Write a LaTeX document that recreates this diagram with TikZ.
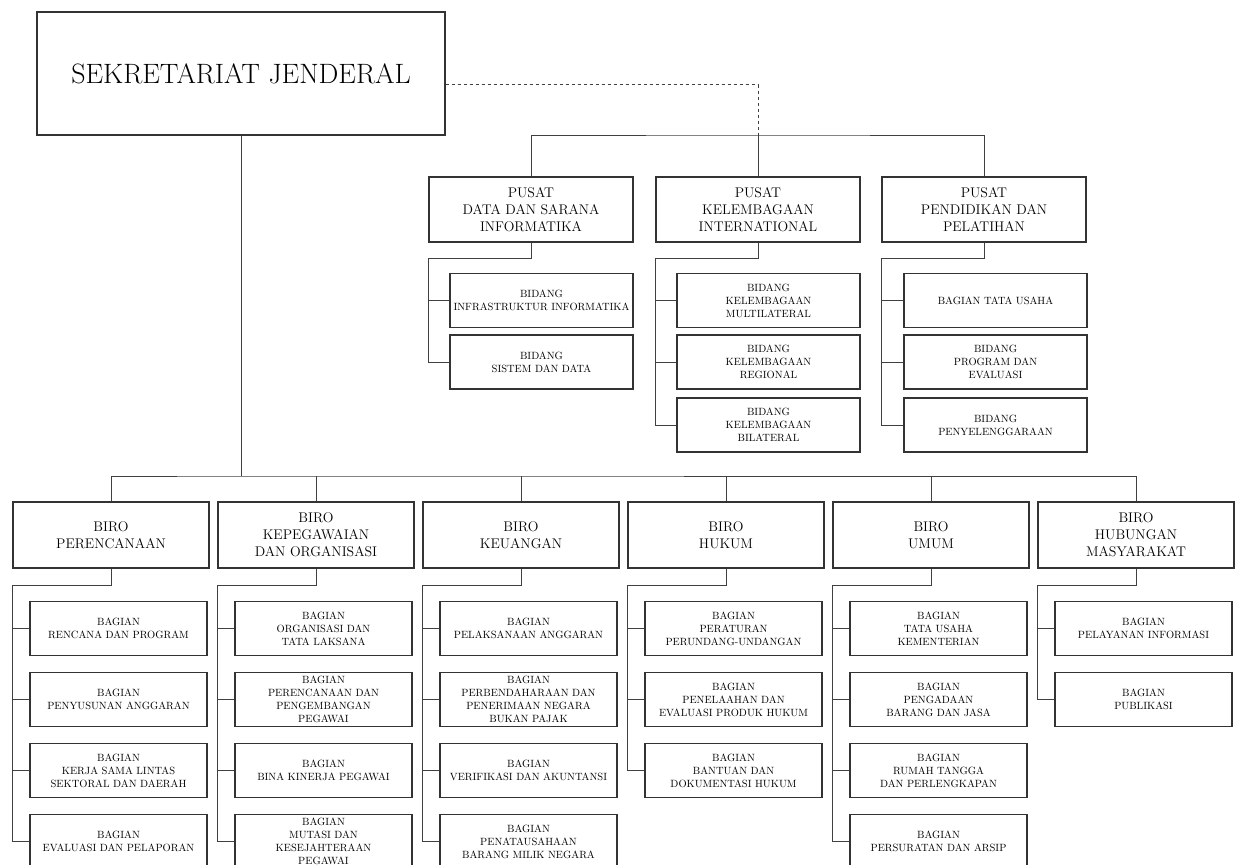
\documentclass[tikz,border=0pt]{standalone}
\usetikzlibrary{positioning}
\begin{document}
\begin{tikzpicture}[x=1pt,y=-1pt,inner sep=2pt,
  box/.style={draw=black!80,line width=1.1pt,rectangle,align=center},
  topbox/.style={box,minimum width=408pt,minimum height=123pt,font=\fontsize{28}{34}\selectfont},
  unitbox/.style={box,minimum width=204pt,minimum height=65pt,font=\fontsize{14}{17}\selectfont},
  birobox/.style={box,minimum width=196pt,minimum height=66pt,font=\fontsize{14}{17}\selectfont},
  bidbox/.style={box,minimum width=183pt,minimum height=54pt,font=\fontsize{10.5}{13}\selectfont},
  subbox/.style={box,minimum width=177pt,minimum height=54pt,font=\fontsize{10.5}{13}\selectfont},
  link/.style={draw=black!75,line width=1pt}]
\useasboundingbox (0,0) rectangle (1241,864);
\clip (0,0) rectangle (1241,864);

\node[topbox] (sj) at (241,73.5) {SEKRETARIAT JENDERAL};

\node[unitbox] (pd) at (531,209.5) {PUSAT\\DATA DAN SARANA\\INFORMATIKA};
\node[unitbox] (pk) at (758,209.5) {PUSAT\\KELEMBAGAAN\\INTERNATIONAL};
\node[unitbox] (pp) at (984,209.5) {PUSAT\\PENDIDIKAN DAN\\PELATIHAN};

\node[bidbox] (pd1) at (541.5,300.5) {BIDANG\\INFRASTRUKTUR INFORMATIKA};
\node[bidbox] (pd2) at (541.5,362) {BIDANG\\SISTEM DAN DATA};
\node[bidbox] (pk1) at (768.5,300.5) {BIDANG\\KELEMBAGAAN\\MULTILATERAL};
\node[bidbox] (pk2) at (768.5,362) {BIDANG\\KELEMBAGAAN\\REGIONAL};
\node[bidbox] (pk3) at (768.5,425) {BIDANG\\KELEMBAGAAN\\BILATERAL};
\node[bidbox] (pp1) at (995.5,300.5) {BAGIAN TATA USAHA};
\node[bidbox] (pp2) at (995.5,362) {BIDANG\\PROGRAM DAN\\EVALUASI};
\node[bidbox] (pp3) at (995.5,425) {BIDANG\\PENYELENGGARAAN};

\node[birobox] (b1) at (111,535) {BIRO\\PERENCANAAN};
\node[birobox] (b2) at (316,535) {BIRO\\KEPEGAWAIAN\\DAN ORGANISASI};
\node[birobox] (b3) at (521,535) {BIRO\\KEUANGAN};
\node[birobox] (b4) at (726,535) {BIRO\\HUKUM};
\node[birobox] (b5) at (931,535) {BIRO\\UMUM};
\node[birobox] (b6) at (1136,535) {BIRO\\HUBUNGAN\\MASYARAKAT};

\node[subbox] (b11) at (118.5,628.5) {BAGIAN\\RENCANA DAN PROGRAM};
\node[subbox] (b12) at (118.5,699.5) {BAGIAN\\PENYUSUNAN ANGGARAN};
\node[subbox] (b13) at (118.5,770.5) {BAGIAN\\KERJA SAMA LINTAS\\SEKTORAL DAN DAERAH};
\node[subbox] (b14) at (118.5,841.5) {BAGIAN\\EVALUASI DAN PELAPORAN};

\node[subbox] (b21) at (323.5,628.5) {BAGIAN\\ORGANISASI DAN\\TATA LAKSANA};
\node[subbox] (b22) at (323.5,699.5) {BAGIAN\\PERENCANAAN DAN\\PENGEMBANGAN\\PEGAWAI};
\node[subbox] (b23) at (323.5,770.5) {BAGIAN\\BINA KINERJA PEGAWAI};
\node[subbox] (b24) at (323.5,841.5) {BAGIAN\\MUTASI DAN\\KESEJAHTERAAN\\PEGAWAI};

\node[subbox] (b31) at (528.5,628.5) {BAGIAN\\PELAKSANAAN ANGGARAN};
\node[subbox] (b32) at (528.5,699.5) {BAGIAN\\PERBENDAHARAAN DAN\\PENERIMAAN NEGARA\\BUKAN PAJAK};
\node[subbox] (b33) at (528.5,770.5) {BAGIAN\\VERIFIKASI DAN AKUNTANSI};
\node[subbox] (b34) at (528.5,841.5) {BAGIAN\\PENATAUSAHAAN\\BARANG MILIK NEGARA};

\node[subbox] (b41) at (733.5,628.5) {BAGIAN\\PERATURAN\\PERUNDANG-UNDANGAN};
\node[subbox] (b42) at (733.5,699.5) {BAGIAN\\PENELAAHAN DAN\\EVALUASI PRODUK HUKUM};
\node[subbox] (b43) at (733.5,770.5) {BAGIAN\\BANTUAN DAN\\DOKUMENTASI HUKUM};

\node[subbox] (b51) at (938.5,628.5) {BAGIAN\\TATA USAHA\\KEMENTERIAN};
\node[subbox] (b52) at (938.5,699.5) {BAGIAN\\PENGADAAN\\BARANG DAN JASA};
\node[subbox] (b53) at (938.5,770.5) {BAGIAN\\RUMAH TANGGA\\DAN PERLENGKAPAN};
\node[subbox] (b54) at (938.5,841.5) {BAGIAN\\PERSURATAN DAN ARSIP};

\node[subbox] (b61) at (1143.5,628.5) {BAGIAN\\PELAYANAN INFORMASI};
\node[subbox] (b62) at (1143.5,699.5) {BAGIAN\\PUBLIKASI};

% top part
\coordinate (busT) at (758,135);
\draw[link,dashed] ([yshift=-11.5pt]sj.east) -| (busT);
\draw[link] (pd.north) |- (busT) -| (pp.north);
\draw[link] (pk.north) -- (busT);

\draw[link] (pd.south) -- ++(0,16) -| (pd2.west -| pd.west) -- (pd2.west);
\draw[link] (pd1.west -| pd.west) -- (pd1.west);
\draw[link] (pk.south) -- ++(0,16) -| (pk3.west -| pk.west) -- (pk3.west);
\draw[link] (pk1.west -| pk.west) -- (pk1.west);
\draw[link] (pk2.west -| pk.west) -- (pk2.west);
\draw[link] (pp.south) -- ++(0,16) -| (pp3.west -| pp.west) -- (pp3.west);
\draw[link] (pp1.west -| pp.west) -- (pp1.west);
\draw[link] (pp2.west -| pp.west) -- (pp2.west);

% bottom part
\coordinate (busB) at (241,476);
\draw[link] (sj.south) -- (busB);
\draw[link] (b1.north) |- (busB) -| (b6.north);
\foreach \b in {b2,b3,b4,b5}
  \draw[link] (\b.north) -- (\b.north |- busB);

\draw[link] (b1.south) -- ++(0,17) -| (b14.west -| b1.west) -- (b14.west);
\foreach \c in {b11,b12,b13}
  \draw[link] (\c.west -| b1.west) -- (\c.west);
\draw[link] (b2.south) -- ++(0,17) -| (b24.west -| b2.west) -- (b24.west);
\foreach \c in {b21,b22,b23}
  \draw[link] (\c.west -| b2.west) -- (\c.west);
\draw[link] (b3.south) -- ++(0,17) -| (b34.west -| b3.west) -- (b34.west);
\foreach \c in {b31,b32,b33}
  \draw[link] (\c.west -| b3.west) -- (\c.west);
\draw[link] (b4.south) -- ++(0,17) -| (b43.west -| b4.west) -- (b43.west);
\foreach \c in {b41,b42}
  \draw[link] (\c.west -| b4.west) -- (\c.west);
\draw[link] (b5.south) -- ++(0,17) -| (b54.west -| b5.west) -- (b54.west);
\foreach \c in {b51,b52,b53}
  \draw[link] (\c.west -| b5.west) -- (\c.west);
\draw[link] (b6.south) -- ++(0,17) -| (b62.west -| b6.west) -- (b62.west);
\draw[link] (b61.west -| b6.west) -- (b61.west);
\end{tikzpicture}
\end{document}
